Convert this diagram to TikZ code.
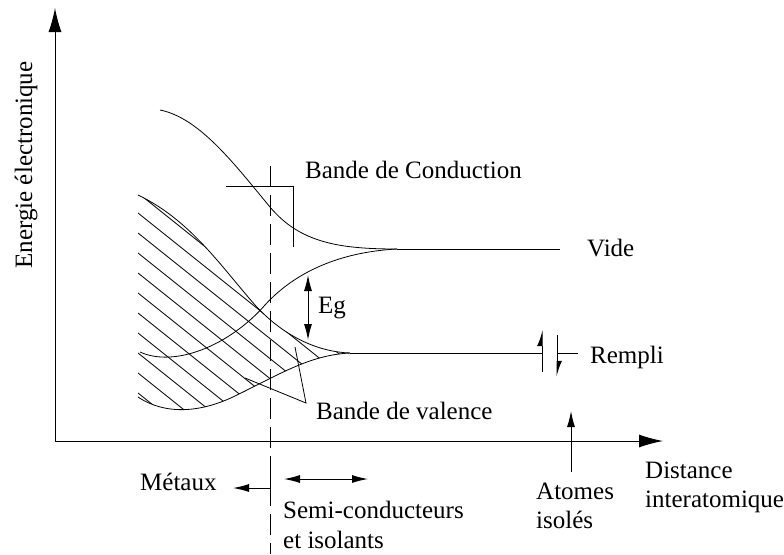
\documentclass[tikz,border=0pt]{standalone}
\usepackage{fontspec}
\setmainfont{Liberation Serif}
\usetikzlibrary{arrows.meta}
\begin{document}
\begin{tikzpicture}[x=1pt,y=-1pt,
  font=\fontsize{25}{30}\selectfont,
  lbl/.style={anchor=base west, inner sep=0pt},
  thinline/.style={line width=0.8pt},
  axisline/.style={line width=1pt, -{Latex[length=24pt,width=13pt]}},
  bigarrow/.style={line width=1pt, -{Latex[length=16pt,width=8pt]}},
  dblarrow/.style={line width=1pt, {Latex[length=16pt,width=8pt]}-{Latex[length=16pt,width=8pt]}},
  spin/.style={line width=1pt, -{Latex[harpoon,length=14pt,width=10pt]}},
  hatchline/.style={line width=0.8pt}
]
\useasboundingbox (0,0) rectangle (784,554);

% axes
\coordinate (O) at (55,441);
\coordinate (ytip) at (55,8);
\coordinate (xtip) at (663,441);
\draw[axisline] (O) -- (ytip);
\draw[axisline] (O) -- (xtip);
\node[rotate=90, anchor=base, inner sep=0pt] (elabel) at (32,165) {Energie électronique};

% key points
\coordinate (vt0) at (138,195);
\coordinate (vb0) at (138,397);
\coordinate (vmerge) at (350,353);
\coordinate (vend) at (542,353);
\coordinate (ct0) at (160,110);
\coordinate (cb0) at (140,352);
\coordinate (cmerge) at (397,249);
\coordinate (cend) at (560,249);

% hatched valence region
\begin{scope}
\clip (vt0) .. controls (190,220) and (220,265) .. (255,305) .. controls (285,338) and (320,352) .. (vmerge)
  .. controls (310,355) and (280,374) .. (235,396) .. controls (200,413) and (165,415) .. (vb0) -- cycle;
\foreach \i in {-12,...,12} {
  \draw[hatchline] (138,{193+20*\i}) -- ++(300,240);
}
\end{scope}

% valence band boundaries
\draw[thinline] (vt0) .. controls (190,220) and (220,265) .. (255,305) .. controls (285,338) and (320,352) .. (vmerge);
\draw[thinline] (vb0) .. controls (165,415) and (200,413) .. (235,396) .. controls (280,374) and (310,355) .. (vmerge);
\draw[thinline] (vmerge) -- (vend);

% conduction band boundaries
\draw[thinline] (ct0) .. controls (200,118) and (235,165) .. (270,207) .. controls (300,243) and (340,249) .. (cmerge);
\draw[thinline] (cb0) .. controls (175,368) and (230,345) .. (265,305) .. controls (295,272) and (340,252) .. (cmerge);
\draw[thinline] (cmerge) -- (cend);

% dashed separator
\coordinate (d1) at (270,166);
\coordinate (d2) at (270,554);
\draw[line width=1pt, dash pattern=on 21pt off 8pt] (d1) -- (d2);

% Bande de conduction bracket
\coordinate (bc1) at (226,186);
\coordinate (bc2) at (293,186);
\coordinate (bc3) at (293,247);
\draw[line width=1pt] (bc1) -- (bc2) -- (bc3);
\node[lbl] (bclabel) at (305,178) {Bande de Conduction};

% Eg
\coordinate (eg1) at (308,275);
\coordinate (eg2) at (308,340);
\draw[dblarrow] (eg1) -- (eg2);
\node[lbl] (eglabel) at (318,313) {Eg};

% Bande de valence pointer
\coordinate (bva) at (295,347);
\coordinate (bv0) at (306,403);
\coordinate (bvb) at (245,378);
\draw[thinline] (bva) -- (bv0) -- (bvb);
\node[lbl] (bvlabel) at (316,419) {Bande de valence};

% Vide
\node[lbl] (vide) at (587,256) {Vide};

% Rempli spins
\coordinate (s1a) at (542,372);
\coordinate (s1b) at (542,330);
\coordinate (s2a) at (557,335);
\coordinate (s2b) at (557,377);
\coordinate (s2c) at (557,353);
\coordinate (s2d) at (578,353);
\draw[spin] (s1a) -- (s1b);
\draw[spin] (s2a) -- (s2b);
\draw[line width=1pt] (s2c) -- (s2d);
\node[lbl] (rempli) at (590,363) {Rempli};

% Metaux
\coordinate (m1) at (270,468);
\coordinate (m2) at (270,488);
\coordinate (m3) at (233,488);
\draw[bigarrow] (m1) -- (m2) -- (m3);
\node[lbl] (metaux) at (140,490) {Métaux};

% Semi-conducteurs
\coordinate (sc1) at (284,479);
\coordinate (sc2) at (368,479);
\draw[dblarrow] (sc1) -- (sc2);
\node[lbl] (semi) at (283,518) {Semi-conducteurs};
\node[lbl] (isol) at (283,548) {et isolants};

% Atomes isoles
\coordinate (a1) at (571,472);
\coordinate (a2) at (571,411);
\draw[bigarrow] (a1) -- (a2);
\node[lbl] (atomes) at (536,499) {Atomes};
\node[lbl] (isoles) at (536,528) {isolés};

% Distance interatomique
\node[lbl] (dist) at (645,478) {Distance};
\node[lbl] (inter) at (645,507) {interatomique};
\end{tikzpicture}
\end{document}
